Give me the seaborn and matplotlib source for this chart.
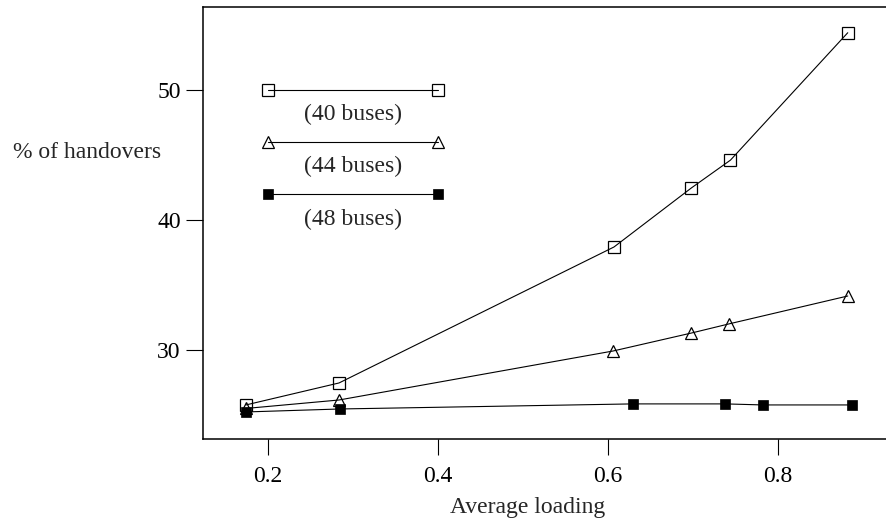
import matplotlib
matplotlib.use("Agg")
import matplotlib.pyplot as plt
import seaborn as sns
import pandas as pd

# Data
x40 = [0.174, 0.2835, 0.607, 0.698, 0.744, 0.882]
y40 = [25.77, 27.46, 37.92, 42.46, 44.6, 54.4]
x44 = [0.174, 0.2835, 0.606, 0.698, 0.742, 0.882]
y44 = [25.5, 26.15, 29.92, 31.3, 32.0, 34.15]
x48 = [0.174, 0.285, 0.629, 0.738, 0.782, 0.887]
y48 = [25.23, 25.46, 25.85, 25.85, 25.77, 25.77]

series_labels = ["(40 buses)", "(44 buses)", "(48 buses)"]
# in-plot key (drawn in data coordinates)
key_x = [0.2, 0.4]
key_y = [50, 46, 42]
key_text_y = [48.1, 44.1, 40.0]

xticks = [0.2, 0.4, 0.6, 0.8]
yticks = [30, 40, 50]

sns.set_theme(style="ticks")
plt.rcParams["font.family"] = ["Liberation Serif", "DejaVu Serif"]
plt.rcParams["font.size"] = 17

fig = plt.figure(figsize=(8.86, 5.26), dpi=100)
W, H = 886, 526
ax = fig.add_axes([203 / W, 1 - 439 / H, (W - 203) / W, (439 - 7) / H])

styles = [
    dict(marker="s", markersize=8.5, markerfacecolor="none", markeredgecolor="black", markeredgewidth=0.9),
    dict(marker="^", markersize=8, markerfacecolor="none", markeredgecolor="black", markeredgewidth=0.9),
    dict(marker="s", markersize=7, markerfacecolor="black", markeredgecolor="black", markeredgewidth=0.5),
]

for xs, ys, st in zip([x40, x44, x48], [y40, y44, y48], styles):
    df = pd.DataFrame({"x": xs, "y": ys})
    sns.lineplot(data=df, x="x", y="y", ax=ax, color="black", linewidth=0.8,
                 sort=False, estimator=None, legend=False, clip_on=False, **st)

for ky, ty, st, lab in zip(key_y, key_text_y, styles, series_labels):
    dk = pd.DataFrame({"x": key_x, "y": [ky, ky]})
    sns.lineplot(data=dk, x="x", y="y", ax=ax, color="black", linewidth=0.8,
                 sort=False, estimator=None, legend=False, **st)
    ax.text(sum(key_x) / 2, ty, lab, ha="center", va="center", fontsize=17)

ax.set_xlim(0.1235, 0.927)
ax.set_ylim(23.15, 56.38)
ax.set_xticks(xticks)
ax.set_xticklabels([f"{t:.1f}" for t in xticks])
ax.set_yticks(yticks)
ax.set_yticklabels([str(t) for t in yticks])
ax.tick_params(axis="x", length=11.5, width=0.8, pad=8, labelsize=17, colors="black")
ax.tick_params(axis="y", length=12, width=0.8, pad=4, labelsize=17, colors="black")
ax.set_xlabel("")
ax.set_ylabel("")
for s in ["left", "bottom", "top"]:
    ax.spines[s].set_linewidth(1.1)
    ax.spines[s].set_color("black")
ax.spines["right"].set_visible(False)

fig.text(13 / W, 1 - 153 / H, "% of handovers", ha="left", va="center", fontsize=17)
fig.text(528 / W, 1 - 508 / H, "Average loading", ha="center", va="center", fontsize=17)

fig.savefig("out.png", dpi=100)
